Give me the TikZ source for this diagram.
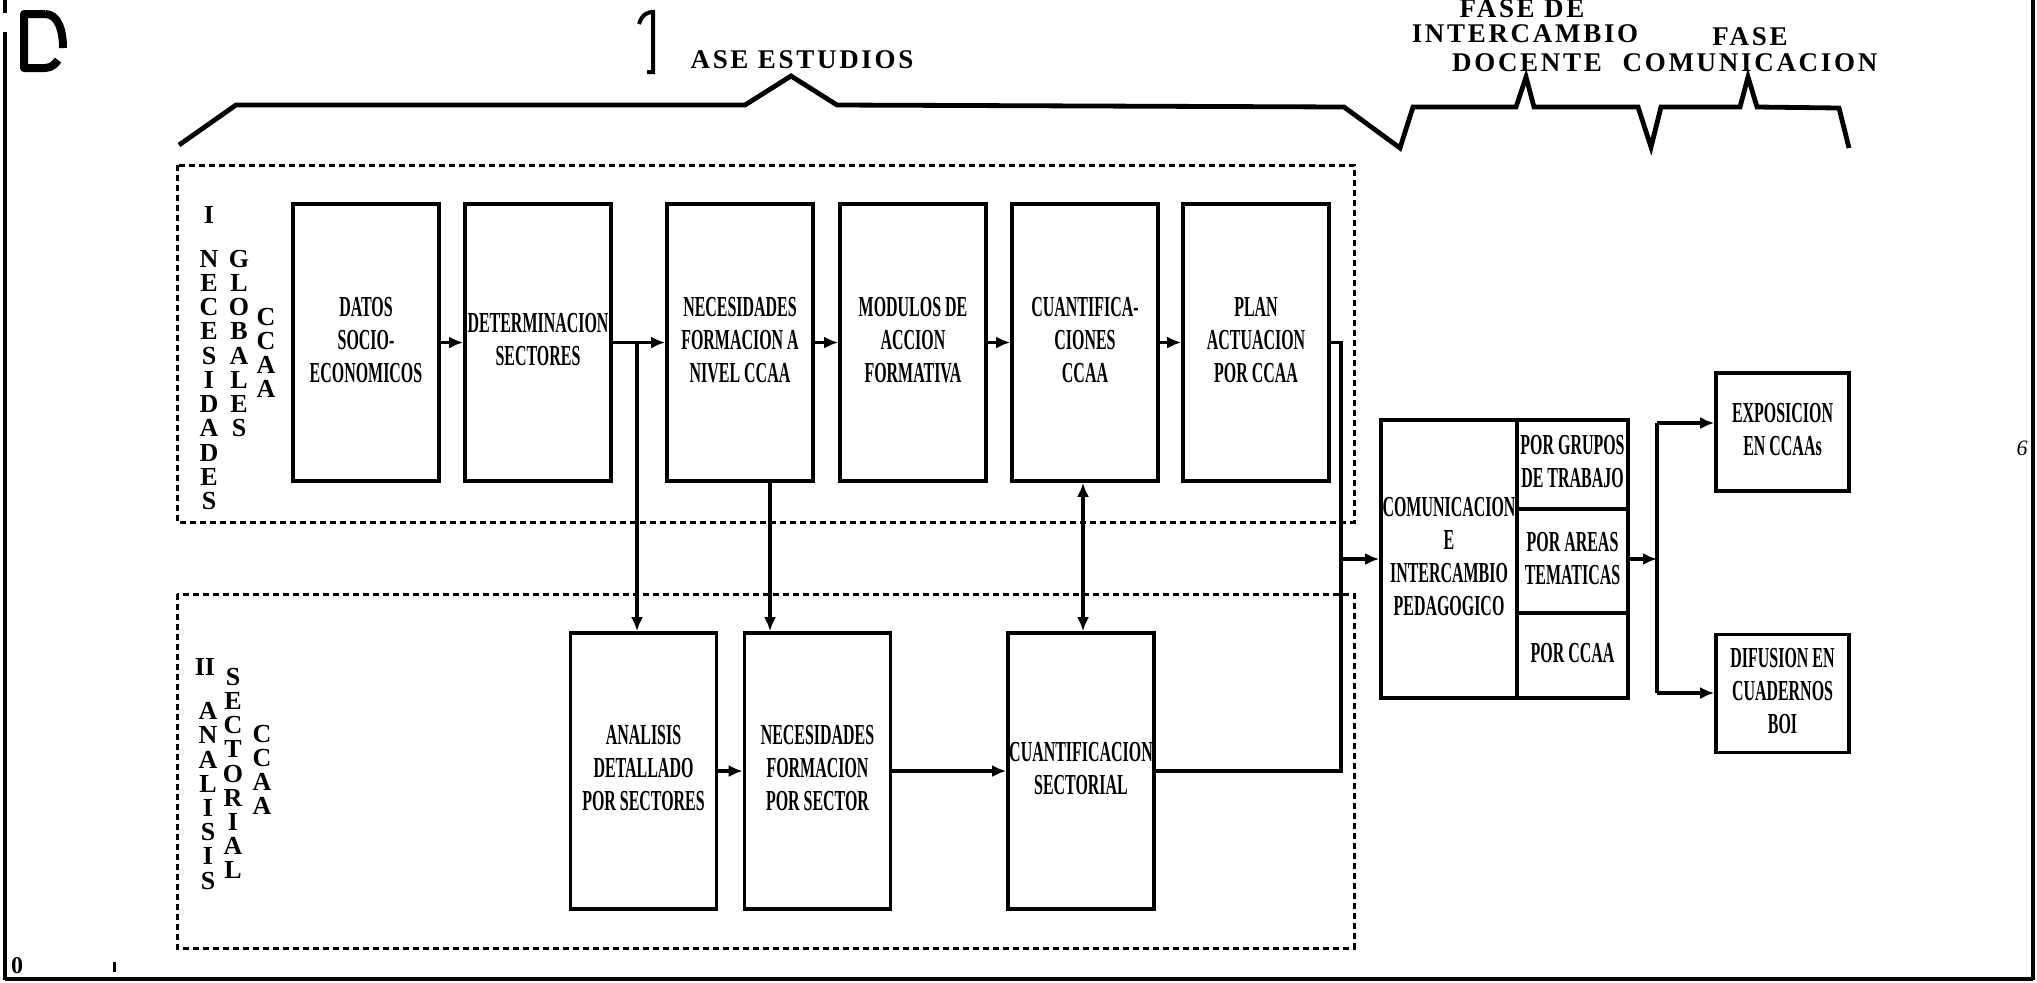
\documentclass[tikz,border=0pt]{standalone}
\usepackage{fontspec}
\setmainfont{Liberation Serif}
\newfontfamily\hdfont[LetterSpace=10]{Liberation Serif}
\usetikzlibrary{arrows.meta}
\newcommand{\bt}[1]{\scalebox{0.55}[1]{\begin{tabular}{@{}c@{}}#1\end{tabular}}}
\begin{document}
\begin{tikzpicture}[x=0.5pt,y=-0.5pt,
  boxfont/.style={font=\fontsize{14.5}{16.5}\selectfont\bfseries},
  box/.style={draw, line width=1.8pt, minimum width=73pt, minimum height=138.5pt, inner sep=0pt, boxfont},
  sbox/.style={draw, line width=1.8pt, minimum width=66.5pt, minimum height=59pt, inner sep=0pt, boxfont},
  cell/.style={draw, line width=1.8pt, minimum width=55.5pt, inner sep=0pt, boxfont},
  conn/.style={line width=1.6pt},
  arr/.style={conn, -{Latex[length=7pt,width=6pt]}},
  dbl/.style={conn, {Latex[length=7pt,width=6pt]}-{Latex[length=7pt,width=6pt]}},
  dashbox/.style={line width=1.5pt, dash pattern=on 3pt off 2pt},
  vlab/.style={align=center, inner sep=0pt, font=\fontsize{13}{12.1}\selectfont\bfseries},
  hdr/.style={inner sep=0pt, font=\hdfont\fontsize{13.5}{14}\selectfont\bfseries},
  brace/.style={line width=2.4pt, line join=miter},
  border/.style={line width=1.6pt}]
\fill[white] (0,0) rectangle (2037,982);
\useasboundingbox (0,0) rectangle (2037,982);

% page border and scan marks
\draw[border] (5,0) -- (5,13);
\draw[border] (5,32) -- (5,980);
\draw[border] (5,979) -- (2033,979);
\draw[border] (2033,0) -- (2033,980);
\draw[line width=4pt, line join=round] (45,14) -- (24,14) -- (24,68) -- (45,68) .. controls (52,68) and (56,63) .. (58,60);
\draw[line width=4pt] (45,14) .. controls (58,14) and (63,30) .. (63,48);
\draw[line width=2pt] (639,24) .. controls (642,14) and (648,12) .. (653,12) -- (653,72) -- (647,72);
\node[inner sep=0pt, font=\fontsize{12}{12}\selectfont\bfseries] (zero) at (17,966) {0};
\fill (113,962) rectangle (116,972);
\node[inner sep=0pt, font=\fontsize{11}{11}\selectfont\itshape] (six) at (2022,448) {6};

% headers
\node[hdr] (h1) at (802,60) {ASE ESTUDIOS};
\node[hdr] (h2) at (1522,9) {FASE DE};
\node[hdr] (h3) at (1525,34) {INTERCAMBIO};
\node[hdr] (h4) at (1527,63) {DOCENTE};
\node[hdr] (h5) at (1750,37) {FASE};
\node[hdr] (h6) at (1750,63) {COMUNICACION};

% brace line
\draw[brace] (179,145) -- (236,105) -- (745,105) -- (791,76) -- (837,105) -- (1344,107)
  -- (1400,148) -- (1413,107) -- (1516,107) -- (1526,77) -- (1534,107) -- (1638,107)
  -- (1651,147) -- (1661,107) -- (1740,107) -- (1748,77) -- (1757,107) -- (1839,108) -- (1849,148);

% dashed groups
\draw[dashbox] (177,165) rectangle (1354,522);
\draw[dashbox] (177,594) rectangle (1354,948);

% vertical labels
\node[vlab] (l1) at (209,215) {I};
\node[vlab] (l2) at (209,380) {N\\E\\C\\E\\S\\I\\D\\A\\D\\E\\S};
\node[vlab] (l3) at (239,343.5) {G\\L\\O\\B\\A\\L\\E\\S};
\node[vlab] (l4) at (266,353) {C\\C\\A\\A};
\node[vlab] (l5) at (205,667) {II};
\node[vlab] (l6) at (208,796) {A\\N\\A\\L\\I\\S\\I\\S};
\node[vlab] (l7) at (233,773.5) {S\\E\\C\\T\\O\\R\\I\\A\\L};
\node[vlab] (l8) at (262,770) {C\\C\\A\\A};

% upper row
\node[box] (datos) at (366,342.5) {\bt{DATOS\\SOCIO-\\ECONOMICOS}};
\node[box] (determ) at (538,342.5) {\bt{DETERMINACION\\SECTORES}};
\node[box] (nec) at (740,342.5) {\bt{NECESIDADES\\FORMACION A\\NIVEL CCAA}};
\node[box] (mod) at (913,342.5) {\bt{MODULOS DE\\ACCION\\FORMATIVA}};
\node[box] (cuant) at (1085,342.5) {\bt{CUANTIFICA-\\CIONES\\CCAA}};
\node[box] (plan) at (1256,342.5) {\bt{PLAN\\ACTUACION\\POR CCAA}};

% lower row
\node[box, minimum height=138pt] (anal) at (643.5,771) {\bt{ANALISIS\\DETALLADO\\POR SECTORES}};
\node[box, minimum height=138pt] (necsec) at (817.5,771) {\bt{NECESIDADES\\FORMACION\\POR SECTOR}};
\node[box, minimum height=138pt] (cuantsec) at (1081,771) {\bt{CUANTIFICACION\\SECTORIAL}};

% communication block
\node[draw, line width=1.8pt, minimum width=123.5pt, minimum height=139pt, inner sep=0pt] (com) at (1504.5,559) {};
\node[inner sep=0pt, boxfont] (comtxt) at (1449,559) {\bt{COMUNICACION\\E\\INTERCAMBIO\\PEDAGOGICO}};
\node[cell, minimum height=44.5pt] (grupos) at (1572.5,464.5) {\bt{POR GRUPOS\\DE TRABAJO}};
\node[cell, minimum height=52pt] (areas) at (1572.5,561) {\bt{POR AREAS\\TEMATICAS}};
\node[cell, minimum height=42.5pt] (porccaa) at (1572.5,655.5) {\bt{POR CCAA}};

\node[sbox] (expo) at (1782.5,432) {\bt{EXPOSICION\\EN CCAAs}};
\node[sbox] (difu) at (1782.5,693.5) {\bt{DIFUSION EN\\CUADERNOS\\BOI}};

% connectors
\coordinate (j1) at (637,342.5);
\coordinate (v2) at (770,0);
\coordinate (v3) at (1083,0);
\coordinate (c1) at (1341,559);
\coordinate (s1) at (1657,423);
\coordinate (s2) at (1657,693);

\draw[arr] (datos) -- (determ);
\draw[arr] (determ) -- (nec);
\draw[arr] (nec) -- (mod);
\draw[arr] (mod) -- (cuant);
\draw[arr] (cuant) -- (plan);
\draw[arr] (j1) -- (j1 |- anal.north);
\draw[arr] (v2 |- nec.south) -- (v2 |- necsec.north);
\draw[dbl] (v3 |- cuant.south) -- (v3 |- cuantsec.north);
\draw[arr] (anal) -- (necsec);
\draw[arr] (necsec) -- (cuantsec);
\draw[conn] (plan.east) -| (c1);
\draw[conn] (cuantsec.east) -| (c1);
\draw[arr] (c1) -- (com.west);
\draw[arr] (com.east) -- (com.east -| s1);
\draw[conn] (s1) -- (s2);
\draw[arr] (s1) -- (s1 -| expo.west);
\draw[arr] (s2) -- (s2 -| difu.west);
\end{tikzpicture}
\end{document}
